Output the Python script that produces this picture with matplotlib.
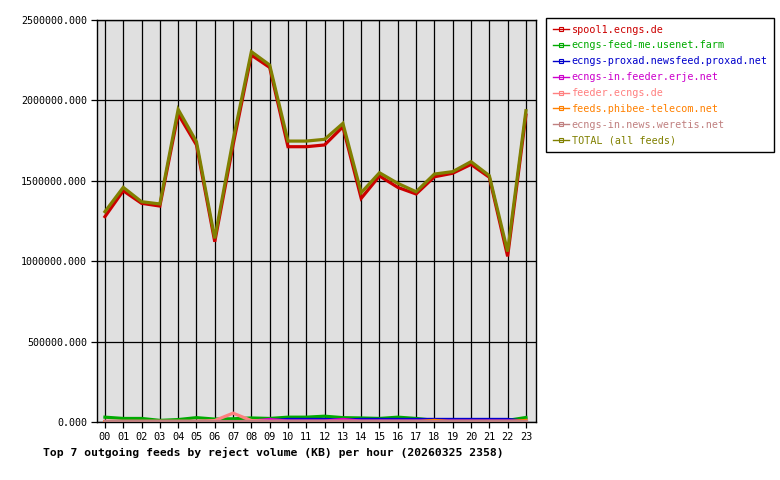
import matplotlib
matplotlib.use("Agg")
import matplotlib.pyplot as plt
from matplotlib.lines import Line2D

hours = [f"{h:02d}" for h in range(24)]

spool1 = [1277000, 1438000, 1360000, 1343000, 1915000, 1723000, 1121000, 1722000,
          2282000, 2205000, 1712000, 1712000, 1723000, 1836000, 1391000, 1530000,
          1459000, 1418000, 1525000, 1547000, 1602000, 1522000, 1030000, 1909000]
feed_me = [30000, 22000, 22000, 10000, 15000, 27000, 18000, 20000,
           25000, 22000, 30000, 30000, 36000, 27000, 25000, 22000,
           30000, 22000, 10000, 10000, 10000, 10000, 10000, 28000]
proxad = [0, 0, 0, 0, 0, 0, 0, 0,
          0, 8000, 16000, 16000, 16000, 12000, 16000, 16000,
          16000, 16000, 16000, 16000, 16000, 16000, 16000, 5000]
erje = [0, 0, 0, 0, 0, 0, 0, 0,
        5000, 16000, 5000, 5000, 5000, 16000, 5000, 5000,
        5000, 5000, 5000, 5000, 5000, 5000, 5000, 5000]
feeder_ecngs = [5000, 5000, 5000, 5000, 5000, 5000, 9000, 55000,
                9000, 5000, 5000, 5000, 5000, 5000, 5000, 5000,
                5000, 5000, 5000, 5000, 5000, 5000, 5000, 5000]
phibee = [0, 0, 0, 0, 0, 0, 0, 0,
          0, 0, 0, 0, 0, 0, 0, 0,
          0, 0, 10000, 0, 0, 0, 0, 10000]
weretis = [8000] * 24
total = [1308000, 1459000, 1370000, 1356000, 1944000, 1743000, 1142000, 1754000,
         2303000, 2220000, 1747000, 1747000, 1758000, 1857000, 1426000, 1550000,
         1484000, 1432000, 1542000, 1557000, 1619000, 1532000, 1060000, 1936000]

labels = ["spool1.ecngs.de", "ecngs-feed-me.usenet.farm",
          "ecngs-proxad.newsfeed.proxad.net", "ecngs-in.feeder.erje.net",
          "feeder.ecngs.de", "feeds.phibee-telecom.net",
          "ecngs-in.news.weretis.net", "TOTAL (all feeds)"]
series = [spool1, feed_me, proxad, erje, feeder_ecngs, phibee, weretis, total]
colors = ["#CC0000", "#00AA00", "#0000CC", "#CC00CC", "#FF8080", "#FF8000",
          "#C08080", "#808000"]

plt.rcParams['font.family'] = ['DejaVu Sans Mono']

fig = plt.figure(figsize=(7.8, 4.8), dpi=100)
ax = fig.add_axes([96.7/780, 1 - 422/480, (536 - 96.7)/780, (422 - 20)/480])
ax.set_facecolor("#E0E0E0")

x = list(range(24))
for s, c in zip(series, colors):
    ax.plot(x, s, color=c, linewidth=2.3, solid_joinstyle='miter', zorder=3)

ax.set_xlim(-0.45, 23.55)
ax.set_ylim(0, 2500000)
ax.set_xticks(x)
ax.set_xticklabels(hours, fontsize=7.4)
yt = [0, 500000, 1000000, 1500000, 2000000, 2500000]
ax.set_yticks(yt)
ax.set_yticklabels([f"{v:.3f}" for v in yt], fontsize=7.2)
ax.grid(True, color="black", linewidth=0.9, zorder=1)
ax.set_axisbelow(True)
ax.tick_params(axis='both', direction='out', length=4, width=0.9, color='black', pad=3)
for sp in ax.spines.values():
    sp.set_color("black")
    sp.set_linewidth(1.0)

fig.text(43/780, 1 - 452/480, "Top 7 outgoing feeds by reject volume (KB) per hour (20260325 2358)",
         fontsize=8.2, fontweight='bold', ha='left', va='center')

handles = [Line2D([0], [0], color=c, linewidth=1.0, marker='s', markersize=2.5,
                  markerfacecolor='none', markeredgewidth=0.8) for c in colors]
leg = fig.legend(handles, labels, loc='upper left',
                 bbox_to_anchor=(546/780, 1 - 18/480), frameon=True, fancybox=False,
                 edgecolor='black', framealpha=1, fontsize=7.3, handlelength=1.6,
                 handletextpad=0.3, labelspacing=0.58, borderpad=0.65, borderaxespad=0,
                 labelcolor='linecolor')
leg.get_frame().set_linewidth(1.0)

fig.savefig("out.png", dpi=100)
